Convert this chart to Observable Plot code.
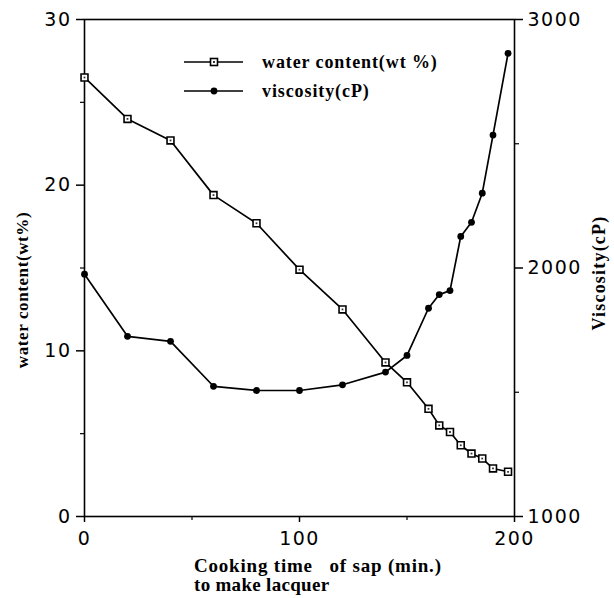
<!DOCTYPE html>
<html>
<head>
<meta charset="utf-8">
<script src="https://cdn.jsdelivr.net/npm/d3@7"></script>
<script src="https://cdn.jsdelivr.net/npm/@observablehq/plot@0.6"></script>
<style>
  html, body { margin: 0; padding: 0; background: white; }
</style>
</head>
<body>
<div id="chart"></div>
<script>
// cooking time of sap (min.)
const times = [0, 20, 40, 60, 80, 100, 120, 140, 150, 160, 165, 170, 175, 180, 185, 190, 197];
// water content (wt%)
const water = [26.5, 24.0, 22.7, 19.4, 17.7, 14.9, 12.5, 9.3, 8.1, 6.5, 5.5, 5.1, 4.3, 3.8, 3.5, 2.9, 2.7];
// viscosity (cP)
const viscosity = [1975, 1725, 1705, 1524, 1507, 1507, 1530, 1581, 1648, 1838, 1893, 1909, 2127, 2184, 2301, 2535, 2864];

const xTicks = [0, 100, 200];
const xMinorTicks = [50, 150];
const waterTicks = [0, 10, 20, 30];
const waterMinorTicks = [5, 15, 25];
const viscTicks = [1000, 2000, 3000];
const viscMinorTicks = [1500, 2500];

const seriesNames = ["water content(wt %)", "viscosity(cP)"];
const xTitle1 = "Cooking time   of sap (min.)";
const xTitle2 = "to make lacquer";
const yTitleLeft = "water content(wt%)";
const yTitleRight = "Viscosity(cP)";

// viscosity shares the frame with water content: 1000..3000 cP <-> 0..30 wt%
const v2w = v => (v - 1000) / 2000 * 30;
const w2v = w => 1000 + w / 30 * 2000;

const data = times.map((t, i) => ({t, w: water[i], v: viscosity[i], vy: v2w(viscosity[i])}));

const tickFont = {fontFamily: "DejaVu Sans", fontSize: 19};
const W = 614, H = 598;

const plot = Plot.plot({
  width: W, height: H,
  marginLeft: 84, marginRight: 100, marginTop: 19, marginBottom: 82,
  x: {domain: [0, 200]},
  y: {domain: [0, 30]},
  style: {background: "white", color: "black", fontFamily: "DejaVu Sans", letterSpacing: "1.5px"},
  marks: [
    Plot.frame({stroke: "black", strokeWidth: 1.6}),
    Plot.axisX({ticks: xTicks, tickSize: 6, tickPadding: 9, label: null, strokeWidth: 1.5, ...tickFont}),
    Plot.axisX({ticks: xMinorTicks, tickSize: 4, text: null, label: null, strokeWidth: 1.2}),
    Plot.axisY({ticks: waterTicks, tickSize: 8, tickPadding: 5, label: null, strokeWidth: 1.5, ...tickFont}),
    Plot.axisY({ticks: waterMinorTicks, tickSize: 4, text: null, label: null, strokeWidth: 1.2}),
    Plot.axisY({anchor: "right", ticks: viscTicks.map(v2w), tickFormat: d => String(Math.round(w2v(d))),
      tickSize: 8, tickPadding: 5, label: null, strokeWidth: 1.5, ...tickFont}),
    Plot.axisY({anchor: "right", ticks: viscMinorTicks.map(v2w), tickSize: 4, text: null, label: null, strokeWidth: 1.2}),
    Plot.line(data, {x: "t", y: "w", stroke: "black", strokeWidth: 1.7}),
    Plot.line(data, {x: "t", y: "vy", stroke: "black", strokeWidth: 1.7}),
    Plot.dot(data, {x: "t", y: "w", symbol: "square", r: 3.9, fill: "white", stroke: "black", strokeWidth: 1.6}),
    Plot.dot(data, {x: "t", y: "w", symbol: "square", r: 1.0, fill: "#333"}),
    Plot.dot(data, {x: "t", y: "vy", r: 3.4, fill: "black"})
  ]
});

document.getElementById("chart").appendChild(plot);

const svg = d3.select(plot);
const serif = "'Liberation Serif', 'DejaVu Serif', serif";

// legend
const legendRows = [
  {y: 62, name: seriesNames[0], kind: "square"},
  {y: 91, name: seriesNames[1], kind: "dot"}
];
const lg = svg.append("g").attr("text-anchor", "start");
legendRows.forEach(r => {
  lg.append("line").attr("x1", 184).attr("x2", 243).attr("y1", r.y).attr("y2", r.y)
    .attr("stroke", "black").attr("stroke-width", 1.7);
  if (r.kind === "square") {
    lg.append("rect").attr("x", 214 - 3.5).attr("y", r.y - 3.5).attr("width", 7).attr("height", 7)
      .attr("fill", "white").attr("stroke", "black").attr("stroke-width", 1.6);
    lg.append("rect").attr("x", 213).attr("y", r.y - 1).attr("width", 2).attr("height", 2).attr("fill", "#333");
  } else {
    lg.append("circle").attr("cx", 214).attr("cy", r.y).attr("r", 3.4).attr("fill", "black");
  }
  lg.append("text").attr("x", 262).attr("y", r.y + 6).attr("text-anchor", "start")
    .attr("font-family", serif).attr("font-weight", "bold").attr("font-size", 18)
    .attr("letter-spacing", "0.9px")
    .text(r.name);
});

// axis titles
const tg = svg.append("g").attr("font-family", serif).attr("font-weight", "bold").attr("fill", "black");
tg.append("text").attr("x", 194).attr("y", 572).attr("text-anchor", "start")
  .attr("font-size", 19).attr("letter-spacing", "0.8px")
  .style("white-space", "pre").text(xTitle1);
tg.append("text").attr("x", 194).attr("y", 591).attr("text-anchor", "start")
  .attr("font-size", 19).attr("letter-spacing", "0.3px")
  .text(xTitle2);
tg.append("text").attr("transform", "translate(28,290) rotate(-90)").attr("text-anchor", "middle")
  .attr("font-size", 17).attr("letter-spacing", "0.6px").text(yTitleLeft);
tg.append("text").attr("transform", "translate(605,273) rotate(-90)").attr("text-anchor", "middle")
  .attr("font-size", 18).attr("letter-spacing", "1.2px").text(yTitleRight);
</script>
</body>
</html>
